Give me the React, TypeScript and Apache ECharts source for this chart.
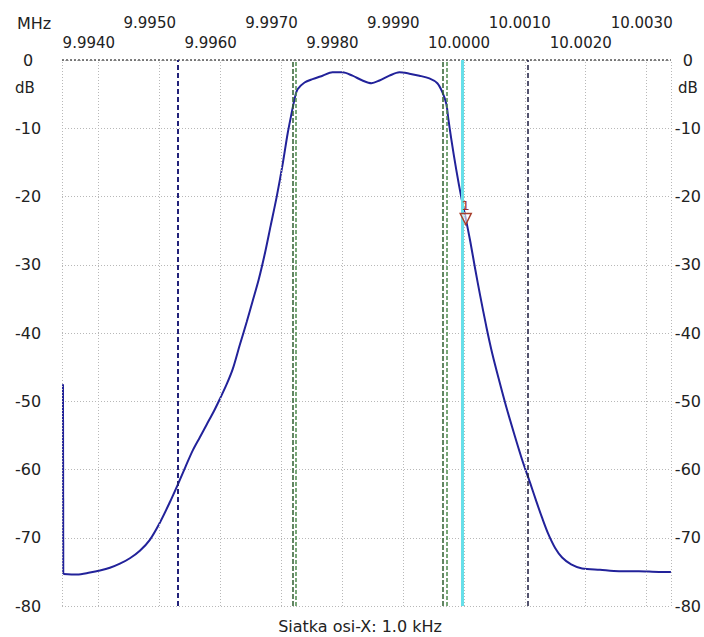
import React, { useEffect, useRef } from "react";
import * as echarts from "echarts";

// Initial sweep spike (MHz, dB)
const SPIKE_MHZ = [9.993416, 9.993421];
const SPIKE_DB = [-47.5, -75.3];

// Frequency (MHz) and level (dB) of the measured curve
const FREQ_MHZ = [
  9.9934213, 9.9936459, 9.993859, 9.994023, 9.9941869, 9.9943508, 9.9945148, 9.9946787,
  9.9948426, 9.9950066, 9.9951705, 9.9953016, 9.9954328, 9.9955475, 9.9956623, 9.995777,
  9.9958918, 9.9959902, 9.9961049, 9.9962033, 9.996318, 9.9964328, 9.9965311, 9.9966295,
  9.9967279, 9.9968262, 9.9969246, 9.997023, 9.9971049, 9.9971705, 9.9972197, 9.9972689,
  9.9973836, 9.997515, 9.997679, 9.997843, 9.998007, 9.99817, 9.998334, 9.998482,
  9.998613, 9.998777, 9.998941, 9.999105, 9.999269, 9.999433, 9.999564, 9.999646,
  9.999711, 9.999744, 9.999793, 9.999875, 9.999957, 10.000023, 10.000105, 10.000187,
  10.000269, 10.000367, 10.0004656, 10.0005803, 10.000695, 10.0008262, 10.0009574, 10.001089,
  10.0011869, 10.0012852, 10.0013836, 10.0014984, 10.0016131, 10.0017607, 10.001941, 10.002236,
  10.002548, 10.002875, 10.003203, 10.0034,
];
const LEVEL_DB = [
  -75.3, -75.4, -75.1, -74.8, -74.4, -73.8, -73.0, -71.9,
  -70.3, -67.8, -64.8, -62.2, -59.5, -57.2, -55.3, -53.4,
  -51.5, -49.7, -47.5, -45.3, -41.8, -38.4, -35.3, -32.2,
  -28.5, -24.3, -20.1, -15.3, -10.8, -7.8, -5.7, -4.3,
  -3.3, -2.8, -2.3, -1.8, -1.8, -2.3, -3.0, -3.4,
  -3.0, -2.3, -1.8, -2.0, -2.3, -2.7, -3.4, -4.7,
  -6.4, -8.6, -11.6, -16.1, -20.1, -22.9, -26.6, -30.7,
  -34.6, -39.0, -43.0, -47.0, -50.8, -54.8, -58.6, -62.0,
  -64.6, -67.1, -69.4, -71.5, -72.9, -73.9, -74.5, -74.7,
  -74.9, -74.9, -75.0, -75.0,
];

const X_MIN = 9.9934;
const X_MAX = 10.0034;
const GRID_MHZ = [9.994, 9.995, 9.996, 9.997, 9.998, 9.999, 10.0, 10.001, 10.002, 10.003];
const LOWER_LABELS = [9.994, 9.996, 9.998, 10.0, 10.002];
const UPPER_LABELS = [9.995, 9.997, 9.999, 10.001, 10.003];
const LABEL_SHIFT = 0.00059; // labels start left of their grid line

// Cursor lines
const CURSOR_60_LEFT = 9.995302;
const CURSOR_60_RIGHT = 10.001056;
const CURSOR_6_A = [9.997187, 9.997236];
const CURSOR_6_B = [9.999646, 9.999711];
const CYAN_CURSOR = 9.99998;

const MARKER_FREQ = 10.00003;
const MARKER_DB = -23.3;
const MARKER_NAME = "1";

const FONT = "DejaVu Sans";
const CURVE_COLOR = "#22229a";

export default function App() {
  const ref = useRef<HTMLDivElement>(null);
  useEffect(() => {
    if (!ref.current) return;
    const chart = echarts.init(ref.current, null, { renderer: "svg" });
    const data = FREQ_MHZ.map((f, i) => [f, LEVEL_DB[i]]);
    const spike = SPIKE_MHZ.map((f, i) => [f, SPIKE_DB[i]]);
    const vline = (x: number, color: string, type: any, width: number) => ({
      xAxis: x,
      lineStyle: { color, type, width },
    });
    const xAxisBase = {
      type: "value",
      min: X_MIN,
      max: X_MAX,
      position: "top",
      axisLine: { show: false },
      axisTick: { show: false },
      splitLine: { show: false },
    };
    chart.setOption({
      animation: false,
      backgroundColor: "#ffffff",
      grid: { left: 62, right: 32, top: 60, bottom: 31, containLabel: false },
      title: {
        text: "Siatka osi-X: 1.0 kHz",
        left: 355,
        top: 613,
        textAlign: "center",
        textStyle: { fontFamily: FONT, fontSize: 16, fontWeight: "normal", color: "#222" },
      },
      graphic: [
        { type: "text", left: 17, top: 15, style: { text: "MHz", fontFamily: FONT, fontSize: 16, fill: "#222" } },
        { type: "text", left: 15, top: 80, style: { text: "dB", fontFamily: FONT, fontSize: 15, fill: "#222" } },
        { type: "text", left: 678, top: 80, style: { text: "dB", fontFamily: FONT, fontSize: 15, fill: "#222" } },
      ],
      xAxis: [
        {
          ...xAxisBase,
          axisLabel: {
            customValues: LOWER_LABELS.map((v) => v - LABEL_SHIFT),
            formatter: (v: number) => (v + LABEL_SHIFT).toFixed(4),
            align: "left",
            verticalAlign: "middle",
            margin: 17,
            fontFamily: FONT,
            fontSize: 15,
            color: "#222",
          },
        },
        {
          ...xAxisBase,
          axisLabel: {
            customValues: UPPER_LABELS.map((v) => v - LABEL_SHIFT),
            formatter: (v: number) => (v + LABEL_SHIFT).toFixed(4),
            align: "left",
            verticalAlign: "middle",
            margin: 37,
            fontFamily: FONT,
            fontSize: 15,
            color: "#222",
          },
        },
      ],
      yAxis: [
        {
          type: "value",
          min: -80,
          max: 0,
          interval: 10,
          position: "left",
          axisLine: { show: false },
          axisTick: { show: false },
          splitLine: { show: true, lineStyle: { color: "#b8b8b8", type: [1, 2], width: 1 } },
          axisLabel: { align: "center", margin: 34, fontFamily: FONT, fontSize: 16, color: "#222" },
        },
        {
          type: "value",
          min: -80,
          max: 0,
          interval: 10,
          position: "right",
          axisLine: { show: false },
          axisTick: { show: false },
          splitLine: { show: false },
          axisLabel: { align: "center", margin: 17, fontFamily: FONT, fontSize: 16, color: "#222" },
        },
      ],
      series: [
        {
          type: "line",
          data: [],
          z: 1,
          silent: true,
          markLine: {
            silent: true,
            symbol: "none",
            precision: 8,
            label: { show: false },
            animation: false,
            data: [
              ...GRID_MHZ.map((g) => vline(g, "#b8b8b8", [1, 2], 1)),
              vline(X_MIN, "#b8b8b8", [1, 2], 1),
              vline(X_MAX, "#b8b8b8", [1, 2], 1),
              { yAxis: 0, lineStyle: { color: "#555", type: [2, 2], width: 1.5 } },
              vline(CURSOR_60_LEFT, "#22227a", [5, 3], 2),
              vline(CURSOR_60_RIGHT, "#1c1c40", [5, 3], 1.5),
              vline(CURSOR_6_A[0], "#2f5f2f", [5, 2], 1.5),
              vline(CURSOR_6_A[1], "#4d8a4d", [4, 2], 1.5),
              vline(CURSOR_6_B[0], "#2f5f2f", [5, 2], 1.5),
              vline(CURSOR_6_B[1], "#4d8a4d", [4, 2], 1.5),
              vline(CYAN_CURSOR, "#66dfe9", "solid", 3),
            ],
          },
        },
        {
          type: "line",
          data: spike,
          z: 3,
          showSymbol: false,
          symbol: "none",
          lineStyle: { color: CURVE_COLOR, width: 2 },
        },
        {
          type: "line",
          data,
          z: 3,
          showSymbol: false,
          symbol: "none",
          smooth: 0.3,
          lineStyle: { color: CURVE_COLOR, width: 2 },
          markPoint: {
            symbol: "triangle",
            symbolRotate: 180,
            symbolSize: [11, 11],
            itemStyle: { color: "rgba(255,255,255,0.6)", borderColor: "#a8402e", borderWidth: 1.5 },
            label: {
              show: true,
              position: "top",
              distance: 1,
              formatter: MARKER_NAME,
              color: "#a0302a",
              fontFamily: FONT,
              fontSize: 13,
            },
            data: [{ coord: [MARKER_FREQ, MARKER_DB] }],
          },
        },
      ],
    });
    return () => chart.dispose();
  }, []);
  return (
    <div
      ref={ref}
      style={{ position: "fixed", left: 0, top: 0, width: 704, height: 637, background: "#fff" }}
    />
  );
}
